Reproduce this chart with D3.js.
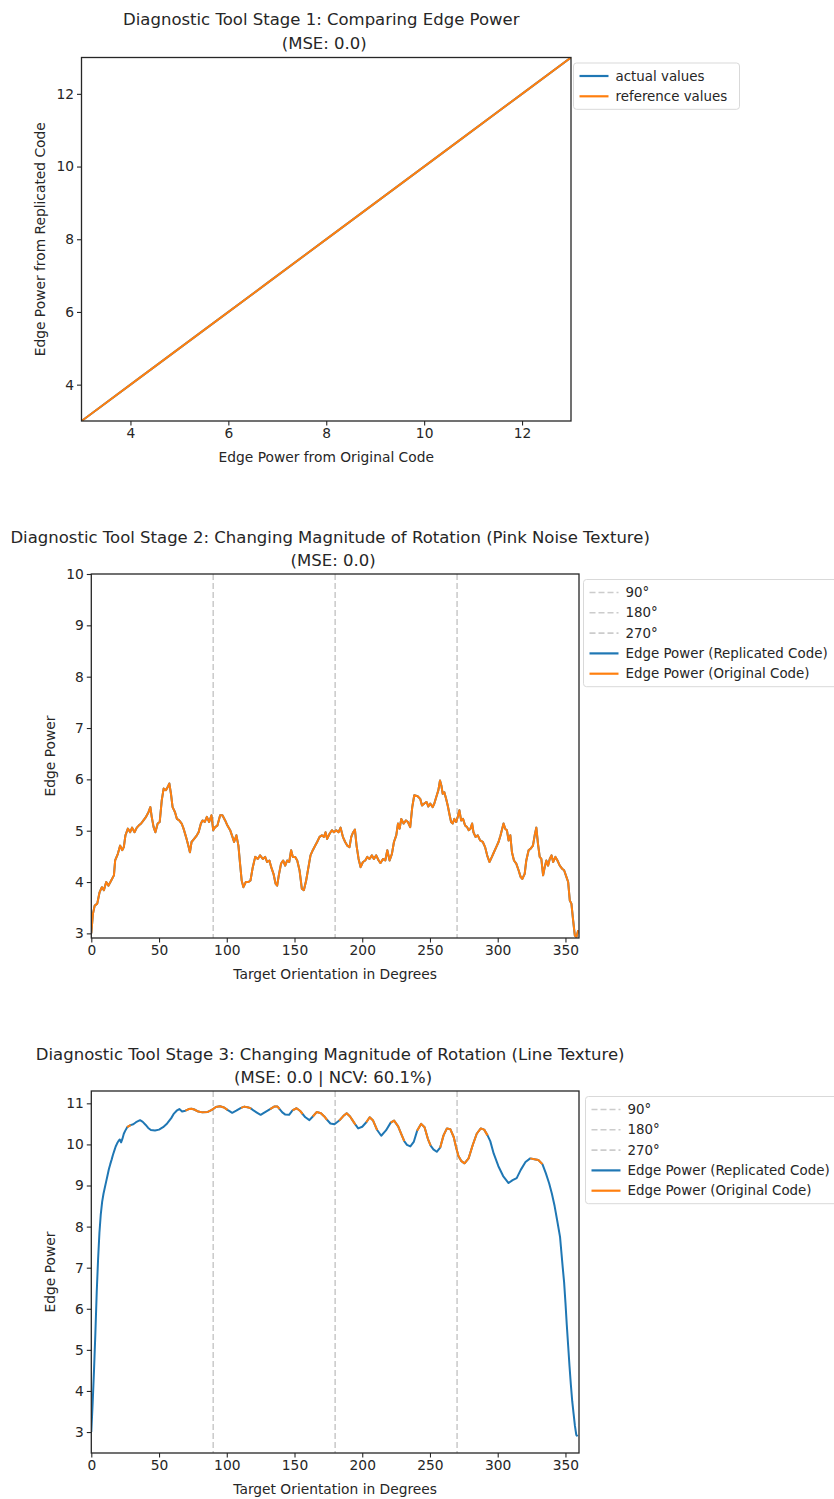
<!DOCTYPE html>
<html>
<head>
<meta charset="utf-8">
<script src="https://cdn.jsdelivr.net/npm/d3@7"></script>
<style>
	html, body { margin: 0; padding: 0; background: #ffffff; }
	svg { display: block; font-family: "DejaVu Sans", sans-serif; }
</style>
</head>
<body>
<svg id="chart" width="834" height="1499"></svg>
<script>
(function () {
	'use strict';

	// --- Stage 1: edge power, original vs replicated (identical) ---
	var stage1Original   = [3.0, 4.2, 5.5, 6.8, 8.1, 9.4, 10.7, 12.0, 13.0];
	var stage1Replicated = [3.0, 4.2, 5.5, 6.8, 8.1, 9.4, 10.7, 12.0, 13.0];
	var stage1Ticks      = [4, 6, 8, 10, 12];

	// --- Stage 2: pink noise texture, edge power by target orientation ---
	var stage2Angles = [
		0, 1.2, 2.5, 4.4, 6.1, 7.8, 9.3, 11, 12.7, 14.7, 16.7, 17.6, 19.6, 21.3, 22.8, 24, 25.2, 27, 28.7, 30.1,
		31.9, 33.6, 35, 36.8, 38.5, 40.4, 42.2, 43.6, 44.6, 46, 47.3, 49, 50.5, 52, 53.4, 55.1, 56.4, 57.6, 58.8, 60,
		61.8, 63.2, 64.9, 66.7, 68.1, 69.9, 71.6, 72.8, 74, 75.9, 77.9, 79.2, 80.9, 82.1, 83.8, 85.3, 87, 88.7, 90, 91.4,
		93.1, 95.1, 96.8, 98.8, 100.5, 102.5, 104.2, 105.4, 107.1, 108.6, 109.8, 111, 112.3, 114, 116, 117.5,
		119.2, 121, 122.9, 124.6, 126.6, 128.3, 129.8, 131.5, 132.8, 134.5, 136, 137.2, 138.4, 140.1, 141.6, 143.1, 144.6, 146.1, 147.5, 148.8,
		150.5, 152, 153.7, 155.4, 156.9, 158.6, 160.3, 161.8, 163.5, 165.3, 166.7, 168.5, 170.2, 171.7, 172.9, 174.1, 175.9, 177.6, 179.1, 180.8,
		182.5, 184, 185.7, 187.4, 188.9, 190.6, 191.9, 193.3, 194.6, 195.8, 197.3, 198.8, 200.5, 202.2, 203.7, 205.4, 207.1, 208.6, 210.3, 212.1,
		213.5, 215.3, 217, 218.5, 220.2, 221.9, 223.4, 225.1, 226.4, 227.6, 228.8, 230.5, 232.3, 233.7,
		235.4, 236.9, 238.4, 240.9, 242.8, 244.1, 245.8, 247.5, 248.8, 250.2, 252, 253.2, 254.7, 256.2, 257.4, 258.4, 259.4, 260.6, 261.9, 263.1,
		264.3, 265.6, 266.8, 268, 269.3, 270.5, 271.7, 273, 274.4, 275.9, 277.4, 278.6, 279.9, 281.1, 282.1, 283.6, 285.3, 287, 289, 290.7,
		292.2, 293.9, 295.7, 297.2, 298.9, 300.6, 302.1, 303.3, 304.3, 305.5, 306.8, 308, 309.3, 310.5, 312, 313.7, 315.4, 316.9, 318.1, 319.9,
		321.1, 322.8, 324.3, 326, 327.3, 328.5, 329.7, 331, 332.2, 333.5, 334.7, 335.9, 337.2, 338.4, 339.7, 340.9, 342.6, 344.1, 345.8, 347.5,
		349, 350.7, 352, 353.2, 354.4, 355.7, 356.9, 358.1, 359.4
	];
	var stage2Replicated = [
		3.0, 3.38, 3.54, 3.58, 3.80, 3.90, 3.84, 4.00, 3.93, 4.03, 4.13, 4.42, 4.55, 4.71, 4.62, 4.68, 4.91, 5.04, 4.97, 5.06,
		4.97, 5.06, 5.10, 5.14, 5.20, 5.27, 5.36, 5.46, 5.27, 5.07, 4.97, 5.14, 5.17, 5.59, 5.82, 5.79, 5.85, 5.92, 5.72, 5.46,
		5.36, 5.23, 5.20, 5.14, 5.04, 4.88, 4.71, 4.58, 4.78, 4.84, 4.91, 4.97, 5.14, 5.20, 5.17, 5.27, 5.17, 5.30, 5.01, 5.07,
		5.10, 5.30, 5.30, 5.20, 5.10, 5.01, 4.88, 4.78, 4.91, 4.71, 4.36, 4.03, 3.90, 4.00, 4.00, 4.03,
		4.29, 4.49, 4.45, 4.52, 4.45, 4.49, 4.39, 4.42, 4.29, 4.16, 3.97, 3.93, 4.13, 4.36, 4.42, 4.32, 4.42, 4.39, 4.62, 4.49,
		4.49, 4.42, 4.23, 3.87, 3.84, 4.03, 4.29, 4.52, 4.62, 4.71, 4.78, 4.88, 4.91, 4.88, 4.97, 4.84, 4.94, 5.01, 4.97, 5.01,
		4.97, 5.06, 4.88, 4.78, 4.71, 4.68, 4.88, 4.97, 5.02, 4.71, 4.45, 4.29, 4.39, 4.42, 4.49, 4.45, 4.52, 4.45, 4.52, 4.42,
		4.37, 4.45, 4.42, 4.62, 4.42, 4.55, 4.78, 4.91, 5.14, 5.04, 5.23, 5.14, 5.20, 5.17,
		5.07, 5.46, 5.69, 5.67, 5.62, 5.49, 5.53, 5.56, 5.47, 5.53, 5.46, 5.53, 5.66, 5.79, 5.98, 5.88, 5.72, 5.75, 5.62, 5.49,
		5.33, 5.17, 5.14, 5.23, 5.17, 5.27, 5.40, 5.20, 5.23, 5.10, 5.07, 5.01, 5.04, 5.14, 4.97, 4.88, 4.91, 4.81, 4.78, 4.68,
		4.52, 4.39, 4.49, 4.58, 4.68, 4.78, 4.91, 5.04, 5.14, 5.04, 5.01, 4.81, 4.91, 4.58, 4.42, 4.36, 4.23, 4.10, 4.06, 4.16,
		4.42, 4.62, 4.65, 4.71, 4.91, 5.06, 4.75, 4.49, 4.45, 4.13, 4.29, 4.42, 4.32, 4.45, 4.52, 4.39, 4.49, 4.42, 4.32, 4.26,
		4.23, 4.10, 4.00, 3.64, 3.58, 3.25, 2.96, 2.93, 3.06
	];
	// MSE 0.0: the original code gives the same curve
	var stage2Original = stage2Replicated;

	// --- Stage 3: line texture ---
	var stage3Angles = [
		0, 1, 2, 3, 4, 5, 6, 7, 8, 9, 10, 11, 12, 13, 14, 15, 16, 17, 18, 19, 20, 21, 22, 23, 24, 25,
		26.5, 28, 29, 31, 33, 36, 38, 40, 42, 44, 47, 50, 53, 56, 59, 61, 63, 65, 67,
		69.5, 72, 74, 76, 79, 82, 86, 89, 92, 95, 98, 100.5, 102, 104, 107, 110.5, 113, 116, 118,
		120, 122.5, 125, 128, 132, 135, 137.5, 139, 141, 143, 146, 148.5, 151.5, 154, 156, 158, 161,
		163.5, 166.5, 169.5, 172, 174, 176.5, 179.5, 183, 186, 188.5, 191, 193, 195, 197, 200,
		203, 205.5, 208, 211, 214, 217.5, 221, 223.5, 226.5, 229, 231, 233, 235.5, 238,
		240.5, 243.5, 246, 248.5, 250.5, 252.5, 255, 257.5, 260, 262.5, 265, 267.5, 269.5, 271, 273, 275.5,
		278.5, 281.5, 284.5, 287.5, 290, 292.5, 294.5, 297, 300.5, 304, 308, 311, 314, 317, 320.5,
		324, 327, 330, 333, 335.5, 338, 340, 342, 344, 346, 348, 349, 350, 351, 352, 353, 354, 355, 356, 357, 358, 359
	];
	var stage3Replicated = [
		3.0, 3.7, 4.5, 5.4, 6.4, 7.2, 7.85, 8.3, 8.6, 8.8, 8.95, 9.1, 9.25, 9.4, 9.52, 9.63, 9.75, 9.85, 9.95, 10.02, 10.08, 10.12, 10.05, 10.14, 10.26, 10.33,
		10.42, 10.45, 10.47, 10.49, 10.54, 10.59, 10.55, 10.48, 10.40, 10.35, 10.34, 10.36, 10.42, 10.51, 10.64, 10.75, 10.82, 10.86, 10.80,
		10.82, 10.86, 10.87, 10.85, 10.80, 10.78, 10.79, 10.84, 10.91, 10.93, 10.90, 10.84, 10.81, 10.77, 10.82, 10.89, 10.92, 10.90, 10.87,
		10.82, 10.77, 10.72, 10.78, 10.86, 10.92, 10.92, 10.86, 10.78, 10.73, 10.72, 10.83, 10.88, 10.82, 10.74, 10.66, 10.59,
		10.68, 10.79, 10.76, 10.68, 10.60, 10.51, 10.49, 10.58, 10.69, 10.76, 10.68, 10.58, 10.48, 10.39, 10.43,
		10.54, 10.66, 10.58, 10.35, 10.21, 10.34, 10.53, 10.58, 10.44, 10.24, 10.08, 9.99, 9.95, 10.06,
		10.33, 10.50, 10.42, 10.13, 9.97, 9.88, 9.82, 9.92, 10.22, 10.39, 10.37, 10.18, 9.90, 9.72, 9.60, 9.54,
		9.66, 9.98, 10.26, 10.39, 10.36, 10.22, 10.08, 9.78, 9.47, 9.23, 9.06, 9.13, 9.18, 9.38, 9.57,
		9.66, 9.64, 9.62, 9.52, 9.30, 9.05, 8.80, 8.50, 8.13, 7.75, 7.00, 6.65, 6.15, 5.60, 5.10, 4.60, 4.15, 3.75, 3.45, 3.15, 2.93, 2.90
	];
	// Original code only returned values on parts of the sweep; null = no value.
	var stage3Original = [
		[26.5, 10.42], [28, 10.45], [29, 10.47], null,
		[69.5, 10.82], [72, 10.86], [74, 10.87], [76, 10.85], [79, 10.80], [82, 10.78], [86, 10.79], [89, 10.84], [92, 10.91], [95, 10.93], [98, 10.90], [100.5, 10.84], null,
		[110.5, 10.89], [113, 10.92], [116, 10.90], [118, 10.87], null,
		[132, 10.86], [135, 10.92], [137.5, 10.92], [139, 10.86], null,
		[148.5, 10.83], [151.5, 10.88], [154, 10.82], [156, 10.74], null,
		[163.5, 10.68], [166.5, 10.79], [169.5, 10.76], [172, 10.68], [174, 10.60], null,
		[183, 10.58], [186, 10.69], [188.5, 10.76], [191, 10.68], [193, 10.58], [195, 10.48], null,
		[203, 10.54], [205.5, 10.66], [208, 10.58], [211, 10.35], null,
		[221, 10.53], [223.5, 10.58], [226.5, 10.44], [229, 10.24], [231, 10.08], null,
		[240.5, 10.33], [243.5, 10.50], [246, 10.42], [248.5, 10.13], [250.5, 9.97], null,
		[257.5, 9.92], [260, 10.22], [262.5, 10.39], [265, 10.37], [267.5, 10.18], [269.5, 9.90], [271, 9.72], [273, 9.60],
		[275.5, 9.54], [278.5, 9.66], [281.5, 9.98], [284.5, 10.26], [287.5, 10.39], [290, 10.36], [292.5, 10.22], null,
		[324, 9.66], [327, 9.64], [330, 9.62], [333, 9.52]
	];

	var orientationTicks = [0, 50, 100, 150, 200, 250, 300, 350];
	var guideAngles      = [90, 180, 270];
	var stage2YTicks     = [3, 4, 5, 6, 7, 8, 9, 10];
	var stage3YTicks     = [3, 4, 5, 6, 7, 8, 9, 10, 11];

	// --- Styling ---
	var BLUE        = '#1f77b4';
	var ORANGE      = '#ff7f0e';
	var GUIDE       = '#cccccc';
	var INK         = '#262626';
	var TITLE_SIZE  = '16.5px';
	var TEXT_SIZE   = '13.8px';
	var LEGEND_SIZE = '13.4px';

	var svg = d3.select('#chart');

	function zip(xs, ys) {
		return xs.map(function (x, i) { return [x, ys[i]]; });
	}

	function drawPanel(cfg) {
		var b = cfg.box;
		var x = d3.scaleLinear().domain(cfg.xDomain).range([b.l, b.r]);
		var y = d3.scaleLinear().domain(cfg.yDomain).range([b.b, b.t]);
		var g = svg.append('g');
		var cx = (b.l + b.r) / 2;

		// titles (two lines, centred over the axes)
		cfg.title.forEach(function (line, i) {
			g.append('text')
				.attr('x', cx + cfg.titleDx[i])
				.attr('y', cfg.titleY[i])
				.attr('text-anchor', 'middle')
				.attr('dominant-baseline', 'central')
				.style('font-size', TITLE_SIZE)
				.style('fill', INK)
				.text(line);
		});

		// clip so lines stay inside the frame
		var clipId = 'clip-' + cfg.id;
		g.append('clipPath').attr('id', clipId)
			.append('rect')
			.attr('x', b.l).attr('y', b.t)
			.attr('width', b.r - b.l).attr('height', b.b - b.t);

		var plot = g.append('g').attr('clip-path', 'url(#' + clipId + ')');

		(cfg.guides || []).forEach(function (a) {
			plot.append('line')
				.attr('x1', x(a)).attr('x2', x(a))
				.attr('y1', b.t).attr('y2', b.b)
				.attr('stroke', GUIDE)
				.attr('stroke-width', 1.6)
				.attr('stroke-dasharray', '6,3');
		});

		var line = d3.line()
			.defined(function (d) { return d !== null; })
			.x(function (d) { return x(d[0]); })
			.y(function (d) { return y(d[1]); });

		cfg.series.forEach(function (s) {
			plot.append('path')
				.datum(s.points)
				.attr('d', line)
				.attr('fill', 'none')
				.attr('stroke', s.color)
				.attr('stroke-width', 2)
				.attr('stroke-linejoin', 'round');
		});

		// axes
		var xAxis = d3.axisBottom(x).tickValues(cfg.xTicks).tickFormat(d3.format('d')).tickSize(4.5).tickPadding(3);
		var yAxis = d3.axisLeft(y).tickValues(cfg.yTicks).tickFormat(d3.format('d')).tickSize(4.5).tickPadding(3);

		var gx = g.append('g').attr('transform', 'translate(0,' + b.b + ')').call(xAxis);
		var gy = g.append('g').attr('transform', 'translate(' + b.l + ',0)').call(yAxis);
		[gx, gy].forEach(function (ax) {
			ax.select('.domain').remove();
			ax.selectAll('.tick line').attr('stroke', INK).attr('stroke-width', 1.1);
			ax.selectAll('.tick text')
				.style('font-size', TEXT_SIZE)
				.style('font-family', '"DejaVu Sans", sans-serif')
				.attr('fill', INK);
		});

		g.append('rect')
			.attr('x', b.l).attr('y', b.t)
			.attr('width', b.r - b.l).attr('height', b.b - b.t)
			.attr('fill', 'none')
			.attr('stroke', INK)
			.attr('stroke-width', 1.3);

		g.append('text')
			.attr('x', cx)
			.attr('y', b.b + 36)
			.attr('text-anchor', 'middle')
			.attr('dominant-baseline', 'central')
			.style('font-size', TEXT_SIZE)
			.style('fill', INK)
			.text(cfg.xLabel);

		g.append('text')
			.attr('transform', 'translate(' + cfg.yLabelX + ',' + ((b.t + b.b) / 2) + ') rotate(-90)')
			.attr('text-anchor', 'middle')
			.attr('dominant-baseline', 'central')
			.style('font-size', TEXT_SIZE)
			.style('fill', INK)
			.text(cfg.yLabel);

		// legend, anchored just right of the frame, top aligned with it
		var lg = cfg.legend;
		var rowStep = 20.3;
		var boxH = 26 + rowStep * (lg.items.length - 1);
		var leg = g.append('g').attr('transform', 'translate(' + lg.x + ',' + (b.t + 5.5) + ')');
		leg.append('rect')
			.attr('width', lg.w).attr('height', boxH)
			.attr('rx', 3)
			.attr('fill', '#ffffff')
			.attr('fill-opacity', 0.8)
			.attr('stroke', '#d9d9d9');
		lg.items.forEach(function (it, i) {
			var ry = 13 + i * rowStep;
			leg.append('line')
				.attr('x1', 6).attr('x2', 35)
				.attr('y1', ry).attr('y2', ry)
				.attr('stroke', it.color)
				.attr('stroke-width', it.dashed ? 1.6 : 2.2)
				.attr('stroke-dasharray', it.dashed ? '6,3' : null);
			leg.append('text')
				.attr('x', 42).attr('y', ry)
				.attr('dominant-baseline', 'central')
				.style('font-size', LEGEND_SIZE)
				.style('fill', INK)
				.text(it.label);
		});
	}

	var guideItems = guideAngles.map(function (a) {
		return { label: a + '\u00b0', color: GUIDE, dashed: true };
	});

	drawPanel({
		id: 's1',
		box: { l: 81.5, r: 571, t: 57.5, b: 421 },
		xDomain: [3, 13], yDomain: [3, 13],
		xTicks: stage1Ticks, yTicks: stage1Ticks,
		title: ['Diagnostic Tool Stage 1: Comparing Edge Power', '(MSE: 0.0)'],
		titleY: [19, 43],
		titleDx: [-5, -2],
		xLabel: 'Edge Power from Original Code',
		yLabel: 'Edge Power from Replicated Code',
		yLabelX: 40,
		series: [
			{ points: zip(stage1Original, stage1Replicated), color: BLUE },
			{ points: zip(stage1Original, stage1Original), color: ORANGE }
		],
		legend: {
			x: 573.5, w: 166,
			items: [
				{ label: 'actual values', color: BLUE },
				{ label: 'reference values', color: ORANGE }
			]
		}
	});

	drawPanel({
		id: 's2',
		box: { l: 91.3, r: 579, t: 574, b: 938 },
		xDomain: [0, 360], yDomain: [2.91, 10],
		xTicks: orientationTicks, yTicks: stage2YTicks,
		title: ['Diagnostic Tool Stage 2: Changing Magnitude of Rotation (Pink Noise Texture)', '(MSE: 0.0)'],
		titleY: [537, 560],
		titleDx: [-5, -2],
		xLabel: 'Target Orientation in Degrees',
		yLabel: 'Edge Power',
		yLabelX: 50,
		guides: guideAngles,
		series: [
			{ points: zip(stage2Angles, stage2Replicated), color: BLUE },
			{ points: zip(stage2Angles, stage2Original), color: ORANGE }
		],
		legend: {
			x: 583.5, w: 270,
			items: guideItems.concat([
				{ label: 'Edge Power (Replicated Code)', color: BLUE },
				{ label: 'Edge Power (Original Code)', color: ORANGE }
			])
		}
	});

	drawPanel({
		id: 's3',
		box: { l: 91.3, r: 579, t: 1091, b: 1453 },
		xDomain: [0, 360], yDomain: [2.49, 11.3],
		xTicks: orientationTicks, yTicks: stage3YTicks,
		title: ['Diagnostic Tool Stage 3: Changing Magnitude of Rotation (Line Texture)', '(MSE: 0.0 | NCV: 60.1%)'],
		titleY: [1054, 1077],
		titleDx: [-5, -2],
		xLabel: 'Target Orientation in Degrees',
		yLabel: 'Edge Power',
		yLabelX: 50,
		guides: guideAngles,
		series: [
			{ points: zip(stage3Angles, stage3Replicated), color: BLUE },
			{ points: stage3Original, color: ORANGE }
		],
		legend: {
			x: 585.5, w: 270,
			items: guideItems.concat([
				{ label: 'Edge Power (Replicated Code)', color: BLUE },
				{ label: 'Edge Power (Original Code)', color: ORANGE }
			])
		}
	});
})();
</script>
</body>
</html>
